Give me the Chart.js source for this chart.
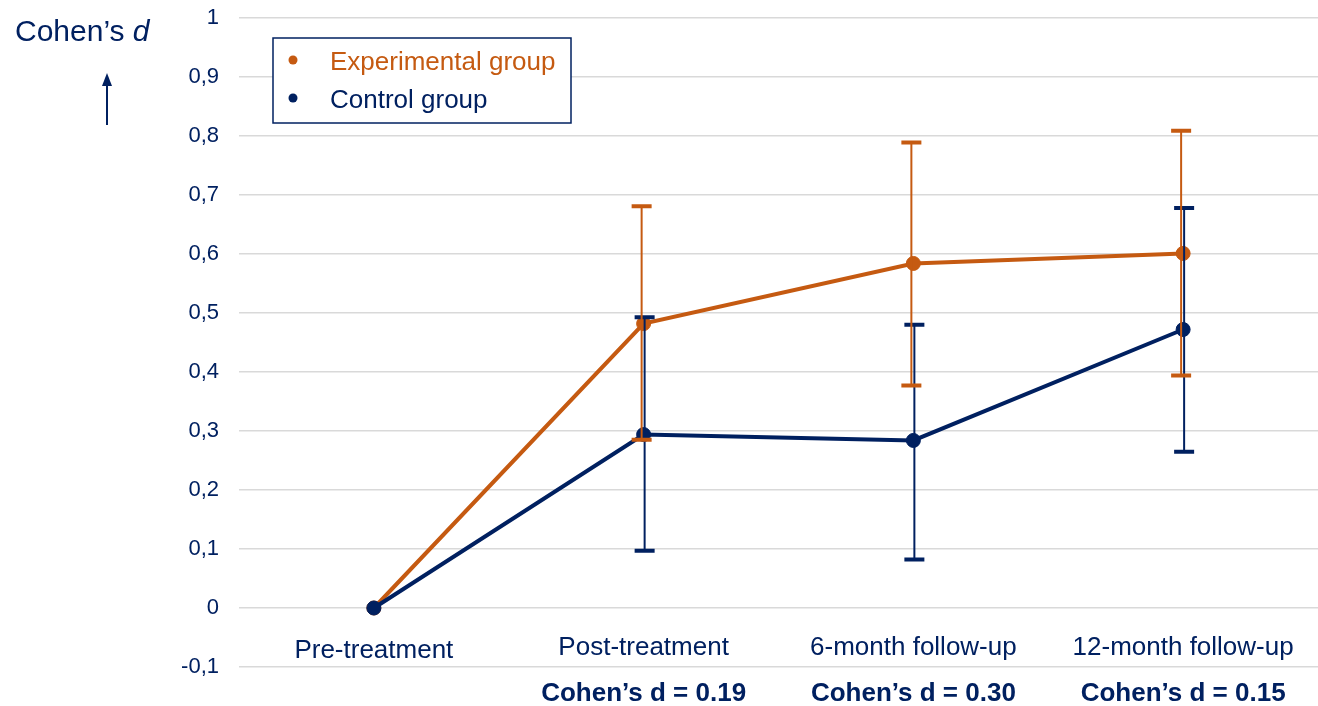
<!DOCTYPE html>
<html lang="en">
<head>
  <meta charset="UTF-8">
  <title>Cohen's d over time</title>
  <script src="https://cdn.jsdelivr.net/npm/chart.js"></script>
  <style>
    html, body { margin: 0; padding: 0; background: #fff; overflow: hidden; }
    #wrap { width: 1318px; height: 706px; position: relative; }
  </style>
</head>
<body>
<div id="wrap"><canvas id="grafico"></canvas></div>

<script>
  // data
  const categorias = ["Pre-treatment", "Post-treatment", "6-month follow-up", "12-month follow-up"];
  const efectos = ["", "Cohen\u2019s d = 0.19", "Cohen\u2019s d = 0.30", "Cohen\u2019s d = 0.15"];

  const experimental = [0, 0.482, 0.584, 0.601];
  const expBajo = [null, 0.285, 0.377, 0.394];
  const expAlto = [null, 0.681, 0.789, 0.809];

  const control = [0, 0.294, 0.284, 0.472];
  const ctrlBajo = [null, 0.097, 0.082, 0.265];
  const ctrlAlto = [null, 0.493, 0.480, 0.678];

  const yTicks = [-0.1, 0, 0.1, 0.2, 0.3, 0.4, 0.5, 0.6, 0.7, 0.8, 0.9, 1];

  const NARANJA = "#C55A11";
  const AZUL = "#002060";
  const FUENTE = "'Liberation Sans', Arial, sans-serif";

  // error bars drawn with the chart's own scales
  const barrasError = {
    id: "barrasError",
    afterDatasetsDraw(chart) {
      const ctx = chart.ctx;
      const x = chart.scales.x, y = chart.scales.y;
      const dibujar = (bajo, alto, color, dx) => {
        ctx.save();
        ctx.strokeStyle = color;
        for (let i = 0; i < categorias.length; i++) {
          if (bajo[i] == null) continue;
          const px = x.getPixelForValue(i) + dx;
          const y1 = y.getPixelForValue(bajo[i]);
          const y2 = y.getPixelForValue(alto[i]);
          ctx.lineWidth = 2;
          ctx.beginPath();
          ctx.moveTo(px, y1);
          ctx.lineTo(px, y2);
          ctx.stroke();
          ctx.lineWidth = 4;
          ctx.beginPath();
          ctx.moveTo(px - 10, y1); ctx.lineTo(px + 10, y1);
          ctx.moveTo(px - 10, y2); ctx.lineTo(px + 10, y2);
          ctx.stroke();
        }
        ctx.restore();
      };
      dibujar(ctrlBajo, ctrlAlto, AZUL, 1);
      dibujar(expBajo, expAlto, NARANJA, -2);
    }
  };

  // category labels + bold effect size line, title, arrow and legend
  const adornos = {
    id: "adornos",
    afterDraw(chart) {
      const ctx = chart.ctx;
      const x = chart.scales.x;
      ctx.save();
      ctx.textAlign = "center";
      ctx.textBaseline = "alphabetic";
      ctx.fillStyle = AZUL;
      categorias.forEach((c, i) => {
        const px = x.getPixelForValue(i);
        ctx.font = "26px " + FUENTE;
        ctx.fillText(c, px, i === 0 ? 658 : 655);
        if (efectos[i]) {
          ctx.font = "bold 26px " + FUENTE;
          ctx.fillText(efectos[i], px, 701);
        }
      });

      // title "Cohen's d"
      ctx.textAlign = "left";
      ctx.font = "30px " + FUENTE;
      const t1 = "Cohen\u2019s ";
      ctx.fillText(t1, 15, 41);
      const w = ctx.measureText(t1).width;
      ctx.font = "italic 30px " + FUENTE;
      ctx.fillText("d", 15 + w, 41);

      // arrow
      ctx.strokeStyle = AZUL;
      ctx.lineWidth = 2;
      ctx.beginPath();
      ctx.moveTo(107, 125);
      ctx.lineTo(107, 82);
      ctx.stroke();
      ctx.beginPath();
      ctx.moveTo(107, 73);
      ctx.lineTo(112, 86);
      ctx.lineTo(102, 86);
      ctx.closePath();
      ctx.fill();

      // legend
      ctx.fillStyle = "#fff";
      ctx.fillRect(273, 38, 298, 85);
      ctx.strokeStyle = AZUL;
      ctx.lineWidth = 1.5;
      ctx.strokeRect(273, 38, 298, 85);
      const items = [["Experimental group", NARANJA, 60], ["Control group", AZUL, 98]];
      ctx.font = "26px " + FUENTE;
      ctx.textBaseline = "middle";
      items.forEach(([txt, col, yy]) => {
        ctx.fillStyle = col;
        ctx.beginPath();
        ctx.arc(293, yy, 4.5, 0, Math.PI * 2);
        ctx.fill();
        ctx.fillText(txt, 330, yy + 3);
      });
      ctx.restore();
    }
  };

  new Chart(document.getElementById("grafico"), {
    type: "line",
    data: {
      labels: categorias,
      datasets: [
        {
          label: "Experimental group",
          data: experimental,
          borderColor: NARANJA,
          backgroundColor: NARANJA,
          borderWidth: 4,
          pointRadius: 7,
          pointBorderWidth: 1,
          pointHoverRadius: 7,
          tension: 0,
          order: 2
        },
        {
          label: "Control group",
          data: control,
          borderColor: AZUL,
          backgroundColor: AZUL,
          borderWidth: 4,
          pointRadius: 7,
          pointBorderWidth: 1,
          pointHoverRadius: 7,
          tension: 0,
          order: 1
        }
      ]
    },
    options: {
      responsive: true,
      maintainAspectRatio: false,
      animation: false,
      layout: { autoPadding: false, padding: { top: 18, right: 0, bottom: 39, left: 0 } },
      plugins: {
        legend: { display: false },
        tooltip: { enabled: false }
      },
      scales: {
        x: {
          display: false,
          offset: true
        },
        y: {
          min: -0.1,
          max: 1,
          afterBuildTicks(s) { s.ticks = yTicks.map(v => ({ value: v })); },
          grid: { color: "#d9d9d9", lineWidth: 1.5, drawTicks: false },
          border: { display: false },
          ticks: {
            color: AZUL,
            font: { size: 22, family: FUENTE },
            padding: 20,
            callback: v => (Math.abs(v) < 1e-9 ? "0" : Number(v.toFixed(1)).toString().replace(".", ","))
          },
          afterFit(s) { s.width = 239; s.paddingTop = 0; s.paddingBottom = 0; }
        }
      }
    },
    plugins: [barrasError, adornos]
  });
</script>
</body>
</html>
